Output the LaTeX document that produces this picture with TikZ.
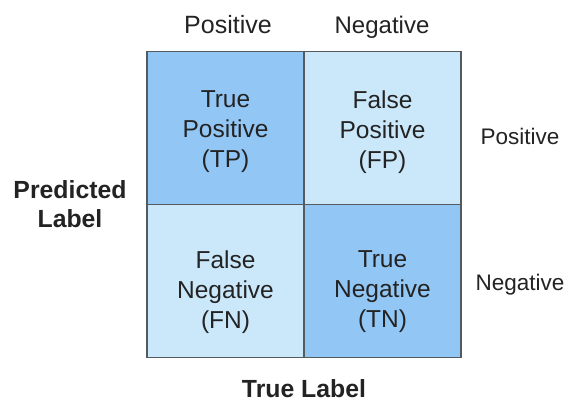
\documentclass[tikz,border=0pt]{standalone}
\usepackage{fontspec}
\setmainfont{Liberation Sans}
\usetikzlibrary{positioning}
\definecolor{cmdark}{RGB}{146,199,245}
\definecolor{cmlight}{RGB}{203,232,251}
\definecolor{cmline}{RGB}{85,90,95}
\definecolor{cmtext}{RGB}{35,35,35}
\tikzset{cell/.style={draw=cmline,line width=1.2pt,minimum width=157pt,minimum height=153pt,
    inner sep=0pt},
  celltext/.style={align=center,text=cmtext,font=\fontsize{24.5}{30}\selectfont},
  axis/.style={anchor=base,text=cmtext,font=\fontsize{22.5}{28}\selectfont},
  title/.style={text=cmtext,align=center,font=\fontsize{24.8}{29}\selectfont\bfseries}}
\begin{document}
\begin{tikzpicture}[x=1pt, y=-1pt]
\useasboundingbox[fill=white] (0,0) rectangle (579,405);
\node[cell, fill=cmdark] (tp) at (225.5,128) {};
\node[cell, fill=cmlight] (fp) at (382.5,128) {};
\node[cell, fill=cmlight] (fn) at (225.5,281) {};
\node[cell, fill=cmdark] (tn) at (382.5,281) {};
\node[celltext] (tptext) at ([yshift=-4pt]tp) {True\\Positive\\(TP)};
\node[celltext] (fptext) at ([yshift=-4pt]fp) {False\\Positive\\(FP)};
\node[celltext] (fntext) at ([yshift=-11pt]fn) {False\\Negative\\(FN)};
\node[celltext] (tntext) at ([yshift=-11pt]tn) {True\\Negative\\(TN)};
\node[axis, font=\fontsize{25}{28}\selectfont] (cpos) at (228,33) {Positive};
\node[axis, font=\fontsize{24}{28}\selectfont] (cneg) at (382,33) {Negative};
\node[axis] (rpos) at (520,144) {Positive};
\node[axis] (rneg) at (520,290) {Negative};
\node[title] (pred) at (70,204) {Predicted\\Label};
\node[title] (true) at (304,389) {True Label};
\end{tikzpicture}
\end{document}
